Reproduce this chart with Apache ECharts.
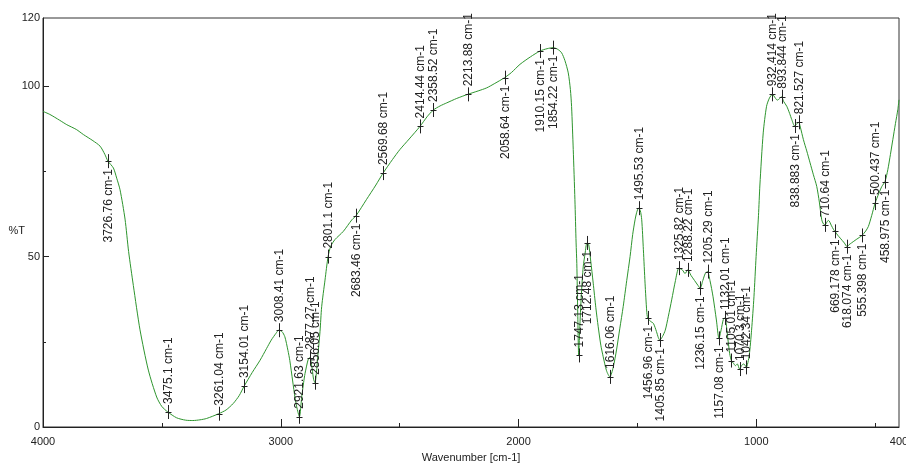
<!DOCTYPE html>
<html>
<head>
<meta charset="utf-8">
<script src="https://cdn.jsdelivr.net/npm/echarts@6/dist/echarts.min.js"></script>
<style>
html,body{margin:0;padding:0;background:#fff;}
#chart{width:906px;height:465px;}
</style>
</head>
<body>
<div id="chart"></div>
<script>
// ---- Spectrum data (wavenumber in cm-1, %T) ----
const wavenumbers = [
  4000, 3971, 3930, 3900, 3860, 3830, 3790, 3760, 3740, 3726.76,
  3704, 3690, 3676, 3655, 3640, 3620, 3592, 3557, 3522, 3500,
  3475.1, 3438, 3400, 3370, 3340, 3312, 3261.04, 3230, 3200, 3175,
  3154.01, 3120, 3087, 3060, 3040, 3020, 3008.41, 2995, 2983, 2970,
  2962, 2950, 2940, 2933, 2921.63, 2912, 2904, 2898, 2884, 2877.27,
  2868, 2862, 2856.05, 2850, 2844, 2835, 2828, 2814, 2801.1, 2790,
  2772, 2737, 2701, 2683.46, 2640, 2600, 2569.68, 2530, 2499, 2460,
  2414.44, 2385, 2358.52, 2330, 2302, 2260, 2213.88, 2170, 2134, 2100,
  2058.64, 2030, 1994, 1950, 1910.15, 1880, 1854.22, 1835, 1819, 1805,
  1791, 1782, 1777, 1770, 1763, 1758, 1755, 1751, 1747.13, 1742,
  1735, 1728, 1720, 1712.48, 1705, 1697, 1686, 1675, 1665, 1654,
  1644, 1630, 1616.06, 1602, 1588, 1574, 1560, 1545, 1531, 1520,
  1510, 1503, 1495.53, 1488, 1482, 1475, 1468, 1461, 1456.96, 1445,
  1433, 1420, 1412, 1405.85, 1395, 1383, 1370, 1356, 1340, 1325.82,
  1310, 1300, 1288.22, 1275, 1260, 1245, 1236.15, 1225, 1215, 1205.29,
  1195, 1182, 1168, 1157.08, 1148, 1139, 1132.01, 1120, 1112, 1105.01,
  1095, 1088, 1080, 1070.3, 1062, 1055, 1048, 1042.34, 1030, 1020,
  1010, 1001, 991, 985, 971, 957, 945, 932.414, 920, 912,
  903, 893.844, 885, 872, 860, 851, 838.883, 830, 821.527, 815,
  802, 788, 774, 760, 746, 735, 725, 718, 710.64, 702,
  696, 685, 675, 669.178, 658, 647, 630, 618.074, 610, 600,
  580, 565, 555.398, 540, 529, 515, 500.437, 485, 472, 458.975,
  447, 436, 426, 415, 405, 400
];
const transmittance = [
  92.6, 91.7, 90.0, 88.7, 87.3, 85.8, 84.0, 82.4, 80.0, 78.0,
  76.0, 73.0, 69.6, 61.0, 51.5, 41.5, 28.5, 16.7, 8.8, 6.0,
  4.4, 2.7, 2.0, 1.9, 2.1, 2.5, 3.9, 5.0, 6.9, 9.2,
  12.0, 16.0, 19.6, 23.0, 25.5, 27.5, 28.4, 28.0, 26.5, 22.5,
  19.5, 13.5, 8.5, 5.9, 3.0, 8.8, 13.0, 15.7, 20.0, 20.3,
  17.0, 14.0, 13.0, 16.0, 21.0, 28.0, 35.3, 43.1, 50.0, 53.0,
  55.0, 57.4, 60.8, 62.0, 66.7, 71.0, 74.5, 78.5, 81.4, 84.5,
  88.2, 91.0, 93.0, 94.2, 95.1, 96.4, 97.6, 98.6, 99.5, 100.8,
  102.5, 104.0, 106.4, 108.6, 110.3, 111.0, 111.3, 110.8, 109.8, 107.5,
  103.9, 99.0, 94.0, 81.4, 66.7, 54.0, 48.0, 33.0, 21.0, 30.0,
  40.0, 47.0, 51.0, 54.0, 53.5, 49.0, 42.2, 35.0, 29.4, 24.0,
  20.6, 16.5, 14.7, 17.5, 22.6, 29.0, 35.3, 43.0, 50.0, 56.5,
  60.8, 63.0, 64.2, 63.5, 60.8, 52.0, 42.2, 34.0, 32.0, 31.0,
  30.4, 28.0, 26.2, 25.5, 26.5, 28.4, 32.5, 37.3, 43.0, 46.6,
  46.0, 45.0, 46.1, 44.5, 43.0, 41.5, 40.7, 43.0, 45.0, 45.6,
  43.0, 38.2, 31.4, 26.0, 28.5, 31.5, 32.0, 26.0, 21.5, 19.5,
  18.6, 18.0, 18.5, 17.0, 18.0, 18.5, 18.2, 17.5, 21.0, 28.4,
  38.2, 50.0, 62.0, 71.0, 86.3, 94.1, 96.5, 97.6, 96.5, 95.9,
  96.3, 96.9, 95.5, 94.1, 92.0, 90.2, 88.3, 89.0, 89.4, 88.0,
  84.3, 81.0, 77.5, 74.0, 70.6, 66.0, 60.8, 59.6, 59.3, 60.3,
  60.6, 59.2, 57.9, 57.4, 56.3, 55.4, 54.0, 52.9, 53.5, 54.0,
  55.0, 55.7, 56.2, 57.5, 58.8, 62.0, 65.7, 68.5, 70.6, 72.0,
  75.5, 80.0, 84.3, 89.0, 93.1, 96.0
];

// ---- Peak annotations ----
const peakWavenumbers = [
  3726.76, 3475.1, 3261.04, 3154.01, 3008.41, 2921.63, 2877.27, 2856.05, 2801.1, 2683.46,
  2569.68, 2414.44, 2358.52, 2213.88, 2058.64, 1910.15, 1854.22, 1747.13, 1712.48, 1616.06,
  1495.53, 1456.96, 1405.85, 1325.82, 1288.22, 1236.15, 1205.29, 1157.08, 1132.01, 1105.01,
  1070.3, 1042.34, 932.414, 893.844, 838.883, 821.527, 710.64, 669.178, 618.074, 555.398,
  500.437, 458.975
];
const peakLabels = [
  '3726.76 cm-1', '3475.1 cm-1', '3261.04 cm-1', '3154.01 cm-1', '3008.41 cm-1', '2921.63 cm-1', '2877.27 cm-1', '2856.05 cm-1', '2801.1 cm-1', '2683.46 cm-1',
  '2569.68 cm-1', '2414.44 cm-1', '2358.52 cm-1', '2213.88 cm-1', '2058.64 cm-1', '1910.15 cm-1', '1854.22 cm-1', '1747.13 cm-1', '1712.48 cm-1', '1616.06 cm-1',
  '1495.53 cm-1', '1456.96 cm-1', '1405.85 cm-1', '1325.82 cm-1', '1288.22 cm-1', '1236.15 cm-1', '1205.29 cm-1', '1157.08 cm-1', '1132.01 cm-1', '1105.01 cm-1',
  '1070.3 cm-1', '1042.34 cm-1', '932.414 cm-1', '893.844 cm-1', '838.883 cm-1', '821.527 cm-1', '710.64 cm-1', '669.178 cm-1', '618.074 cm-1', '555.398 cm-1',
  '500.437 cm-1', '458.975 cm-1'
];
// label side relative to the curve: 'up' or 'down'
const peakSides = [
  'down', 'up', 'up', 'up', 'up', 'up', 'up', 'up', 'up', 'down',
  'up', 'up', 'up', 'up', 'down', 'down', 'down', 'up', 'down', 'up',
  'up', 'down', 'down', 'up', 'up', 'down', 'up', 'down', 'up', 'up',
  'up', 'up', 'up', 'up', 'down', 'up', 'up', 'down', 'down', 'down',
  'up', 'down'
];

// ---- Axis ticks / labels ----
const xTickLabels = [400, 1000, 2000, 3000, 4000];
const xMajorTicks = [1000, 2000, 3000, 4000];
const xMinorTicks = [500, 1500, 2500, 3500];
const yTickLabels = [0, 50, 100, 120];
const yMajorTicks = [0, 50, 100];
const yMinorTicks = [25, 75];
const xAxisTitle = 'Wavenumber [cm-1]';
const yAxisTitle = '%T';

// Curve value at a wavenumber (peaks are sampled points of the spectrum)
function curveAt(w) {
  for (let i = 0; i < wavenumbers.length - 1; i++) {
    const a = wavenumbers[i], b = wavenumbers[i + 1];
    if (w <= a && w >= b) {
      const f = (a - w) / (a - b);
      return transmittance[i] + f * (transmittance[i + 1] - transmittance[i]);
    }
  }
  return transmittance[transmittance.length - 1];
}

const spectrum = wavenumbers.map((w, i) => [w, transmittance[i]]);
const peaks = peakWavenumbers.map((w, i) => [w, curveAt(w), peakSides[i] === 'up' ? 1 : -1, i]);

const axisFont = "'Liberation Sans', Arial, sans-serif";
const peakFont = "12px 'Liberation Sans', Arial, sans-serif";
const plain = v => String(v);

const chart = echarts.init(document.getElementById('chart'), null, {renderer: 'canvas'});
chart.setOption({
  animation: false,
  backgroundColor: '#fff',
  grid: {left: 43, right: 7, top: 18, bottom: 38, outerBoundsMode: 'none', containLabel: false,
         show: true, borderColor: '#333', borderWidth: 1, backgroundColor: '#fff'},
  xAxis: [{
    type: 'value', position: 'bottom', inverse: true, min: 400, max: 4000,
    name: xAxisTitle, nameLocation: 'middle', nameGap: 25, nameMoveOverlap: false,
    nameTextStyle: {color: '#222', fontSize: 11, fontFamily: axisFont},
    axisLine: {onZero: false, lineStyle: {color: '#222', width: 1}},
    axisTick: {inside: true, length: 8, customValues: xMajorTicks, lineStyle: {color: '#222'}},
    axisLabel: {customValues: xTickLabels, formatter: plain, color: '#222', fontSize: 11, fontFamily: axisFont, margin: 9},
    splitLine: {show: false}
  }, {
    type: 'value', position: 'bottom', inverse: true, min: 400, max: 4000,
    axisLine: {show: false, onZero: false},
    axisTick: {inside: true, length: 4, customValues: xMinorTicks, lineStyle: {color: '#222'}},
    axisLabel: {show: false},
    splitLine: {show: false}
  }],
  yAxis: [{
    type: 'value', position: 'left', min: 0, max: 120,
    name: yAxisTitle, nameLocation: 'middle', nameGap: 18, nameRotate: 0, nameMoveOverlap: false,
    nameTextStyle: {color: '#222', fontSize: 11, fontFamily: axisFont, verticalAlign: 'top', align: 'right', padding: [3, 0, 0, 0]},
    axisLine: {onZero: false, lineStyle: {color: '#222', width: 1}},
    axisTick: {inside: true, length: 6, customValues: yMajorTicks, lineStyle: {color: '#222'}},
    axisLabel: {customValues: yTickLabels, formatter: plain, color: '#222', fontSize: 11, fontFamily: axisFont, margin: 3},
    splitLine: {show: false}
  }, {
    type: 'value', position: 'left', min: 0, max: 120,
    axisLine: {show: false, onZero: false},
    axisTick: {inside: true, length: 3, customValues: yMinorTicks, lineStyle: {color: '#222'}},
    axisLabel: {show: false},
    splitLine: {show: false}
  }],
  series: [{
    type: 'line',
    xAxisIndex: 0, yAxisIndex: 0,
    data: spectrum,
    showSymbol: false,
    smooth: 0.25,
    lineStyle: {color: '#2e952e', width: 1},
    z: 2
  }, {
    type: 'custom',
    xAxisIndex: 0, yAxisIndex: 0,
    data: peaks,
    z: 3,
    renderItem: function (params, api) {
      const w = api.value(0), t = api.value(1), side = api.value(2), idx = api.value(3);
      const p = api.coord([w, t]);
      const x = Math.round(p[0]) + 0.5, y = p[1];
      return {
        type: 'group',
        children: [
          {type: 'line', shape: {x1: x, y1: y - 7, x2: x, y2: y + 7}, style: {stroke: '#222', lineWidth: 1}},
          {type: 'line', shape: {x1: x - 3, y1: Math.round(y) + 0.5, x2: x + 3, y2: Math.round(y) + 0.5}, style: {stroke: '#222', lineWidth: 1}},
          {
            type: 'text',
            x: x, y: side > 0 ? y - 8 : y + 8,
            rotation: Math.PI / 2,
            style: {
              text: peakLabels[idx],
              font: peakFont,
              fill: '#222',
              align: side > 0 ? 'left' : 'right',
              verticalAlign: 'middle'
            }
          }
        ]
      };
    }
  }]
});
</script>
</body>
</html>
